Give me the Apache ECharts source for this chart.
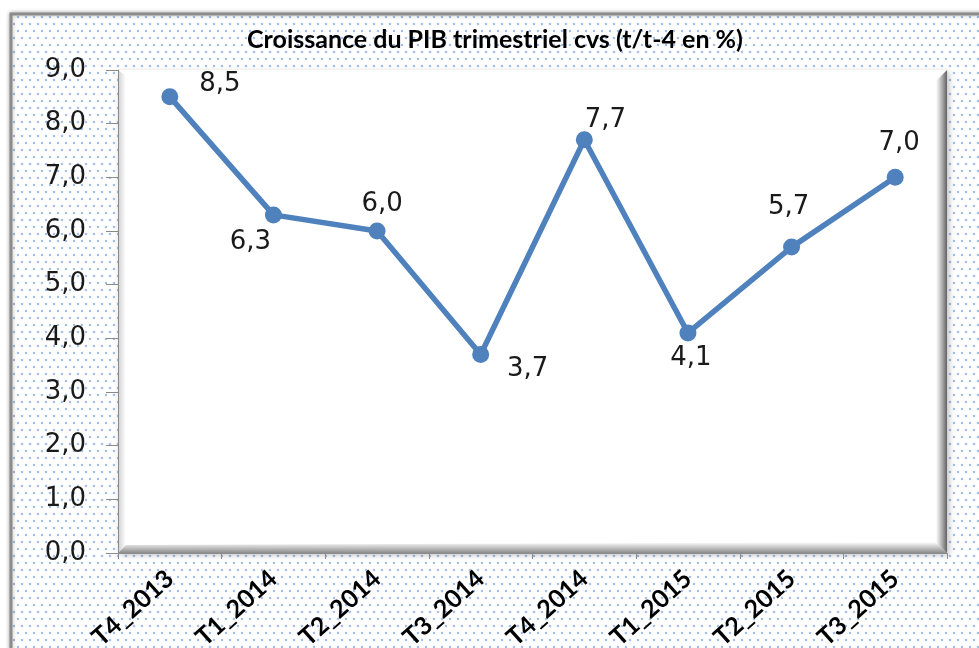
<!DOCTYPE html>
<html>
<head>
<meta charset="utf-8">
<script src="https://cdn.jsdelivr.net/npm/echarts@6/dist/echarts.min.js"></script>
<style>
  html, body { margin: 0; padding: 0; background: #fff; }
  #chart { width: 979px; height: 648px; }
</style>
</head>
<body>
<div id="chart"></div>
<script>
const categories = ['T4_2013', 'T1_2014', 'T2_2014', 'T3_2014', 'T4_2014', 'T1_2015', 'T2_2015', 'T3_2015'];
const growth = [8.5, 6.3, 6.0, 3.7, 7.7, 4.1, 5.7, 7.0];

// label placement, centred on the point then shifted (px)
const labelShift = [[50, -13], [-23, 27], [5, -27], [47, 15], [21, -20], [3, 25], [-3, -40], [4, -34]];

// plot box (px)
const L = 118, T = 70, R = 947, B = 553;

function dotTile() {
  const c = document.createElement('canvas');
  c.width = 8;
  c.height = 14;
  const ctx = c.getContext('2d');
  ctx.fillStyle = '#ffffff';
  ctx.fillRect(0, 0, 8, 14);
  ctx.fillStyle = '#a6c0ea';
  ctx.beginPath();
  ctx.arc(2, 3, 1.3, 0, Math.PI * 2);
  ctx.arc(6, 10, 1.3, 0, Math.PI * 2);
  ctx.fill();
  return c;
}

function grad(x, y, x2, y2, from, to) {
  return new echarts.graphic.LinearGradient(x, y, x2, y2, [
    { offset: 0, color: from },
    { offset: 1, color: to }
  ]);
}

const chart = echarts.init(document.getElementById('chart'));

chart.setOption({
  animation: false,
  backgroundColor: '#ffffff',
  graphic: [
    {
      type: 'rect',
      z: -10,
      shape: { x: 11, y: 14, width: 990, height: 660 },
      style: {
        fill: { image: dotTile(), repeat: 'repeat' },
        stroke: '#8c8c8c',
        lineWidth: 3,
        shadowBlur: 4,
        shadowColor: 'rgba(0,0,0,0.3)'
      }
    },
    {
      type: 'rect',
      z: -9,
      shape: { x: L, y: T, width: R - L, height: B - T },
      style: { fill: '#ffffff', shadowBlur: 6, shadowColor: 'rgba(0,0,0,0.25)', shadowOffsetX: 2, shadowOffsetY: 2 }
    },
    {
      type: 'polygon',
      z: -8,
      shape: { points: [[R - 11, T + 11], [R, T], [R, B], [R - 11, B - 11]] },
      style: { fill: grad(0, 0, 1, 0, 'rgba(90,90,90,0)', 'rgba(70,70,70,0.85)') }
    },
    {
      type: 'polygon',
      z: -8,
      shape: { points: [[L + 8, B - 8], [R - 11, B - 11], [R, B], [L, B]] },
      style: { fill: grad(0, 0, 0, 1, 'rgba(90,90,90,0)', 'rgba(90,90,90,0.7)') }
    },
    {
      type: 'polygon',
      z: -8,
      shape: { points: [[L, T], [L + 8, T + 6], [L + 8, B - 8], [L, B]] },
      style: { fill: grad(0, 0, 1, 0, 'rgba(150,150,150,0.45)', 'rgba(150,150,150,0)') }
    }
  ],
  title: {
    text: 'Croissance du PIB trimestriel cvs (t/t-4 en %)',
    left: 490,
    top: 22,
    textAlign: 'center',
    textStyle: {
      fontFamily: 'Lato',
      fontWeight: 'bold',
      fontSize: 25,
      color: '#000'
    }
  },
  grid: {
    left: L,
    right: 979 - R,
    top: T,
    bottom: 648 - B,
    containLabel: false,
    outerBoundsMode: 'none'
  },
  xAxis: {
    type: 'category',
    data: categories,
    boundaryGap: true,
    axisLine: { show: true, lineStyle: { color: '#8a8a8a', width: 1 } },
    axisTick: { show: true, length: 6, lineStyle: { color: '#8a8a8a' } },
    axisLabel: {
      rotate: 42,
      margin: 22,
      fontFamily: 'Lato',
      fontWeight: 'bold',
      fontSize: 25,
      color: '#000'
    }
  },
  yAxis: {
    type: 'value',
    min: 0,
    max: 9,
    interval: 1,
    splitLine: { show: false },
    axisLine: { show: true, lineStyle: { color: '#8a8a8a', width: 1 } },
    axisTick: { show: true, length: 12, lineStyle: { color: '#8a8a8a' } },
    axisLabel: {
      margin: 32,
      fontFamily: 'DejaVu Sans',
      fontSize: 26,
      color: '#1a1a1a',
      formatter: v => v.toFixed(1).replace('.', ',')
    }
  },
  series: [{
    type: 'line',
    data: growth.map((v, i) => ({
      value: v,
      label: { offset: labelShift[i] }
    })),
    lineStyle: { color: '#4f81bd', width: 5.5 },
    itemStyle: { color: '#4f81bd' },
    symbol: 'circle',
    symbolSize: 17,
    label: {
      show: true,
      position: 'inside',
      fontFamily: 'DejaVu Sans',
      fontSize: 26,
      color: '#1a1a1a',
      formatter: p => p.value.toFixed(1).replace('.', ',')
    }
  }]
});
</script>
</body>
</html>
